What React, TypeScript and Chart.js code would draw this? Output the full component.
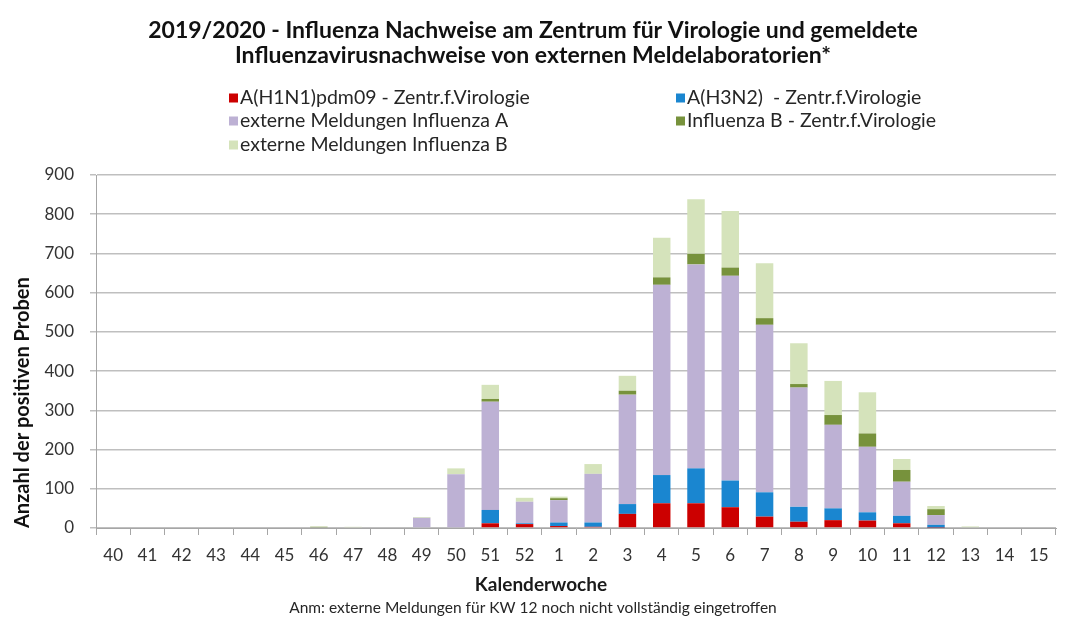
import React, { useEffect, useRef } from "react";
import { Chart, registerables } from "chart.js";

Chart.register(...registerables);

const weeks = ["40","41","42","43","44","45","46","47","48","49","50","51","52","1","2","3","4","5","6","7","8","9","10","11","12","13","14","15"];
const h1n1Zentr = [0,0,0,0,0,0,0,0,0,0,0,12,10,5,3,36,63,63,53,29,16,20,19,12,1,0,0,0];
const h3n2Zentr = [0,0,0,0,0,0,0,0,0,0,0,34,2,9,11,25,72,89,68,62,38,30,21,19,7,0,0,0];
const externA = [0,0,0,0,0,0,0,0,0,26,137,276,55,57,124,279,485,520,522,427,304,213,167,87,25,0,0,0];
const influBZentr = [0,0,0,0,0,0,3,0,0,0,0,7,0,5,0,10,19,27,21,17,9,25,34,30,15,2,0,0];
const externB = [0,0,0,0,0,0,1,3,0,2,15,36,10,4,25,38,101,139,144,140,104,87,105,28,8,2,0,0];
const yTicks = [0,100,200,300,400,500,600,700,800,900];

const seriesLabels = [
  "A(H1N1)pdm09 - Zentr.f.Virologie",
  "A(H3N2)  - Zentr.f.Virologie",
  "externe Meldungen Influenza A",
  "Influenza B - Zentr.f.Virologie",
  "externe Meldungen Influenza B",
];
const seriesColors = ["#cc0000", "#1a86d0", "#bdb1d4", "#77923c", "#d5e3bb"];
const xAxisTitle = "Kalenderwoche";

const FONT = "Lato, 'Open Sans', sans-serif";

const legendPlugin = {
  id: "twoColLegend",
  afterDraw(chart: any) {
    const ctx = chart.ctx;
    const pos = [
      [229, 98], [676, 98],
      [229, 121], [676, 121],
      [229, 145],
    ];
    ctx.save();
    ctx.font = `19.5px ${FONT}`;
    ctx.textBaseline = "middle";
    ctx.textAlign = "left";
    chart.data.datasets.forEach((ds: any, i: number) => {
      const [x, y] = pos[i];
      ctx.fillStyle = ds.backgroundColor;
      ctx.fillRect(x, y - 4.5, 9, 9);
      ctx.fillStyle = "#262626";
      ctx.fillText(ds.label, x + 11, y);
    });
    // x axis title centred on the canvas
    ctx.font = `bold 19px ${FONT}`;
    ctx.textAlign = "center";
    ctx.fillStyle = "#1a1a1a";
    ctx.fillText(xAxisTitle, chart.width / 2 + 1, chart.chartArea.bottom + 57);
    ctx.restore();
  },
};

export default function App() {
  const ref = useRef<HTMLCanvasElement>(null);
  useEffect(() => {
    document.body.style.margin = "0";
    const series = [h1n1Zentr, h3n2Zentr, externA, influBZentr, externB];
    const chart = new Chart(ref.current!, {
      type: "bar",
      data: {
        labels: weeks,
        datasets: series.map((d, i) => ({
          label: seriesLabels[i],
          data: d,
          backgroundColor: seriesColors[i],
          borderWidth: 0,
          categoryPercentage: 1,
          barPercentage: 0.51,
        })),
      },
      options: {
        animation: false,
        responsive: false,
        layout: { padding: { left: 10, right: 24, top: 0, bottom: 0 } },
        plugins: {
          legend: { display: false },
          tooltip: { enabled: false },
          title: {
            display: true,
            text: [
              "2019/2020 - Influenza Nachweise am Zentrum für Virologie und gemeldete",
              "Influenzavirusnachweise von externen Meldelaboratorien*",
            ],
            color: "#111111",
            font: { family: FONT, size: 23, weight: "bold", lineHeight: 1.1 },
            padding: { top: 18, bottom: 106.4 },
          },
          subtitle: {
            display: true,
            position: "bottom",
            text: "Anm: externe Meldungen für KW 12 noch nicht vollständig eingetroffen",
            color: "#262626",
            font: { family: FONT, size: 15.5 },
            padding: { top: 33, bottom: 11 },
          },
        },
        scales: {
          x: {
            stacked: true,
            afterFit: (scale: any) => {
              scale.height = 37.4;
            },
            grid: {
              display: true,
              drawOnChartArea: false,
              drawTicks: true,
              tickLength: 7,
              color: "#a6a6a6",
              offset: true,
            },
            border: { display: true, color: "#a6a6a6" },
            ticks: { color: "#333333", font: { family: FONT, size: 17 }, padding: 10, autoSkip: false, maxRotation: 0 },
          },
          y: {
            stacked: true,
            min: 0,
            max: 900,
            afterFit: (scale: any) => {
              scale.width = 86;
            },
            afterBuildTicks: (axis: any) => {
              axis.ticks = yTicks.map((v) => ({ value: v }));
            },
            grid: { color: "#bfbfbf", tickLength: 6, lineWidth: 1.5 },
            border: { display: true, color: "#a6a6a6" },
            ticks: { color: "#333333", font: { family: FONT, size: 17 }, padding: 16 },
            title: {
              display: true,
              text: "Anzahl der positiven Proben",
              align: "start",
              color: "#111111",
              font: { family: FONT, size: 20, weight: "bold", lineHeight: 1.2 },
              padding: { top: 1, bottom: 8 },
            },
          },
        },
      },
      plugins: [legendPlugin],
    } as any);
    return () => chart.destroy();
  }, []);
  return (
    <div style={{ width: 1080, height: 628, background: "#fff" }}>
      <canvas ref={ref} width={1080} height={628} style={{ display: "block" }} />
    </div>
  );
}
